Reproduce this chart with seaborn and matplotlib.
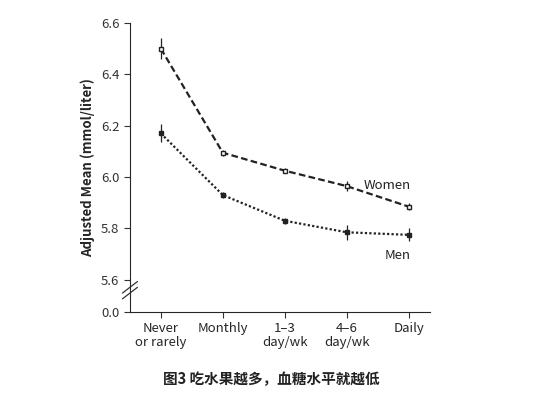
import matplotlib
matplotlib.use("Agg")
import matplotlib.pyplot as plt
import seaborn as sns
import pandas as pd

categories = ["Never\nor rarely", "Monthly", "1\u20133\nday/wk", "4\u20136\nday/wk", "Daily"]
women = [6.50, 6.095, 6.025, 5.965, 5.885]
women_err = [0.04, 0.012, 0.01, 0.02, 0.015]
men = [6.17, 5.93, 5.83, 5.785, 5.775]
men_err = [0.035, 0.012, 0.012, 0.03, 0.025]
yticks = [5.6, 5.8, 6.0, 6.2, 6.4, 6.6]
ZERO_POS = 5.475

sns.set_style("ticks")
plt.rcParams['font.family'] = ['Noto Sans CJK SC', 'DejaVu Sans']

fig = plt.figure(figsize=(5.53, 4.05), dpi=100)
ax = fig.add_axes([0.235, 0.23, 0.543, 0.713])

x = list(range(len(categories)))
df = pd.DataFrame({"x": x * 2, "y": women + men, "sex": ["Women"] * 5 + ["Men"] * 5})
sns.lineplot(data=df, x="x", y="y", hue="sex", style="sex",
             palette={"Women": "#222222", "Men": "#222222"},
             dashes={"Women": (3, 1.5), "Men": (1, 1)}, lw=1.6, legend=False, ax=ax)
ax.errorbar(x, women, yerr=women_err, fmt="s", ms=3.5, mfc="white", mec="#222222",
            ecolor="#222222", elinewidth=0.9, capsize=0)
ax.errorbar(x, men, yerr=men_err, fmt="s", ms=3, mfc="#222222", mec="#222222",
            ecolor="#222222", elinewidth=0.9, capsize=0)

ax.set_xlim(-0.5, 4.35)
ax.set_ylim(ZERO_POS, 6.6)
ax.set_xticks(x)
ax.set_xticklabels(categories, fontsize=9.5, linespacing=1.05)
ax.set_yticks([ZERO_POS] + yticks)
ax.set_yticklabels(["0.0"] + [f"{v:.1f}" for v in yticks], fontsize=9.5, color="#333333")
ax.set_xlabel("")
ax.set_ylabel("Adjusted Mean (mmol/liter)", fontsize=9.5, fontweight="bold")
for s in ["top", "right"]:
    ax.spines[s].set_visible(False)
ax.tick_params(direction="out", length=4, color="#333333")

# axis break
kw = dict(transform=ax.transAxes, color="#333333", lw=0.9, clip_on=False)
for dy in (0.0, 0.02):
    ax.plot([-0.025, 0.025], [0.045 + dy, 0.085 + dy], **kw)

ax.text(4.03, 5.966, "Women", fontsize=9.5, ha="right", va="center", color="#222222")
ax.text(4.03, 5.693, "Men", fontsize=9.5, ha="right", va="center", color="#222222")

fig.text(0.49, 0.063, "图3 吃水果越多，血糖水平就越低", ha="center", va="center",
         fontsize=10.5, fontweight="bold", color="#222222")
fig.savefig("out.png", dpi=100)
